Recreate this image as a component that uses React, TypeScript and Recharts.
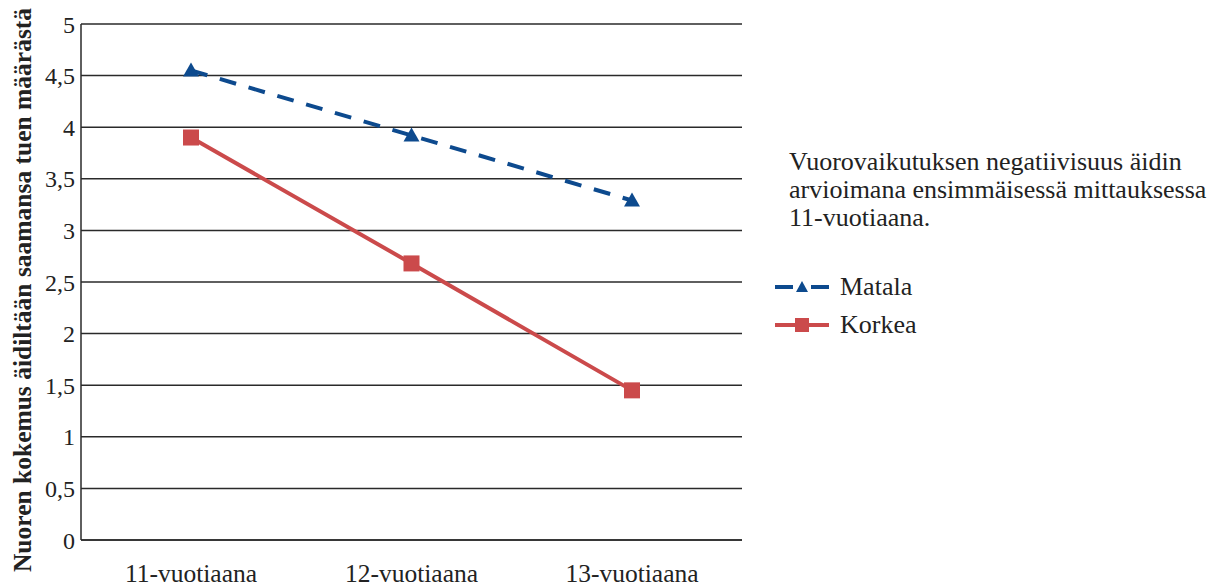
import { LineChart, Line, XAxis, YAxis, CartesianGrid } from 'recharts'

const categories = ['11-vuotiaana', '12-vuotiaana', '13-vuotiaana']
const matala = [4.55, 3.92, 3.29]
const korkea = [3.9, 2.68, 1.45]
const yTicks = [0, 0.5, 1, 1.5, 2, 2.5, 3, 3.5, 4, 4.5, 5]

const BLUE = '#0d4a8e'
const RED = '#cb4a4b'
const FONT = '"Liberation Serif", "Times New Roman", serif'

const data = categories.map((name, i) => ({ name, Matala: matala[i], Korkea: korkea[i] }))

const fmt = (v: number) => String(v).replace('.', ',')

function Triangle(props: any) {
  const { cx, cy } = props
  if (cx == null || cy == null) return null
  return <polygon points={`${cx},${cy - 8} ${cx - 8},${cy + 6} ${cx + 8},${cy + 6}`} fill={BLUE} />
}

function Square(props: any) {
  const { cx, cy } = props
  if (cx == null || cy == null) return null
  return <rect x={cx - 8} y={cy - 8} width={16} height={16} fill={RED} />
}

function LegendBox() {
  const item = (label: string, kind: 'tri' | 'sq') => (
    <div style={{ display: 'flex', alignItems: 'center', height: 38 }}>
      <svg width={56} height={20} style={{ marginRight: 10 }}>
        {kind === 'tri' ? (
          <>
            <line x1={1} y1={10} x2={19} y2={10} stroke={BLUE} strokeWidth={4} />
            <polygon points="28,4 22,15 34,15" fill={BLUE} />
            <line x1={37} y1={10} x2={55} y2={10} stroke={BLUE} strokeWidth={4} />
          </>
        ) : (
          <>
            <line x1={1} y1={10} x2={55} y2={10} stroke={RED} strokeWidth={4} />
            <rect x={21} y={3} width={14} height={14} fill={RED} />
          </>
        )}
      </svg>
      <span>{label}</span>
    </div>
  )
  return (
    <div
      style={{
        position: 'absolute',
        left: 774,
        top: 148,
        width: 450,
        fontFamily: FONT,
        fontSize: 26,
        color: '#222',
      }}
    >
      <div style={{ paddingLeft: 15, lineHeight: '28px', marginBottom: 36, whiteSpace: 'nowrap' }}>
        Vuorovaikutuksen negatiivisuus äidin
        <br />
        arvioimana ensimmäisessä mittauksessa
        <br />
        11-vuotiaana.
      </div>
      {item('Matala', 'tri')}
      {item('Korkea', 'sq')}
    </div>
  )
}

export default function App() {
  return (
    <div
      style={{
        position: 'absolute',
        left: 0,
        top: 0,
        width: 1224,
        height: 588,
        background: '#fff',
        fontFamily: FONT,
      }}
    >
      <LineChart width={1224} height={588} data={data} margin={{ top: 24, right: 482, bottom: 0, left: 0 }}>
        <CartesianGrid vertical={false} stroke="#2a2a2a" strokeWidth={1.5} />
        <XAxis
          dataKey="name"
          height={48}
          padding={{ left: 110, right: 110 }}
          tickLine={false}
          axisLine={{ stroke: '#2a2a2a', strokeWidth: 1.5 }}
          tick={{ fill: '#222', fontSize: 25.5, fontFamily: FONT }}
          tickMargin={18}
        />
        <YAxis
          width={81}
          domain={[0, 5]}
          ticks={yTicks}
          tickFormatter={fmt}
          tickLine={false}
          tickSize={4}
          axisLine={{ stroke: '#2a2a2a', strokeWidth: 1.5 }}
          tick={{ fill: '#222', fontSize: 24, fontFamily: FONT }}
          label={{
            content: (p: any) => {
              const vb = p.viewBox || { x: 0, y: 24, height: 516 }
              const cx = 22
              const cy = vb.y + vb.height / 2 + 8
              return (
                <text
                  x={cx}
                  y={cy}
                  transform={`rotate(-90 ${cx} ${cy})`}
                  textAnchor="middle"
                  dominantBaseline="central"
                  fontFamily={FONT}
                  fontWeight="bold"
                  fontSize={25.5}
                  fill="#222"
                >
                  Nuoren kokemus äidiltään saamansa tuen määrästä
                </text>
              )
            },
          }}
        />
        <Line
          dataKey="Matala"
          stroke={BLUE}
          strokeWidth={4}
          strokeDasharray="17 13"
          dot={<Triangle />}
          activeDot={false}
          isAnimationActive={false}
        />
        <Line
          dataKey="Korkea"
          stroke={RED}
          strokeWidth={4}
          dot={<Square />}
          activeDot={false}
          isAnimationActive={false}
        />
      </LineChart>
      <LegendBox />
    </div>
  )
}
